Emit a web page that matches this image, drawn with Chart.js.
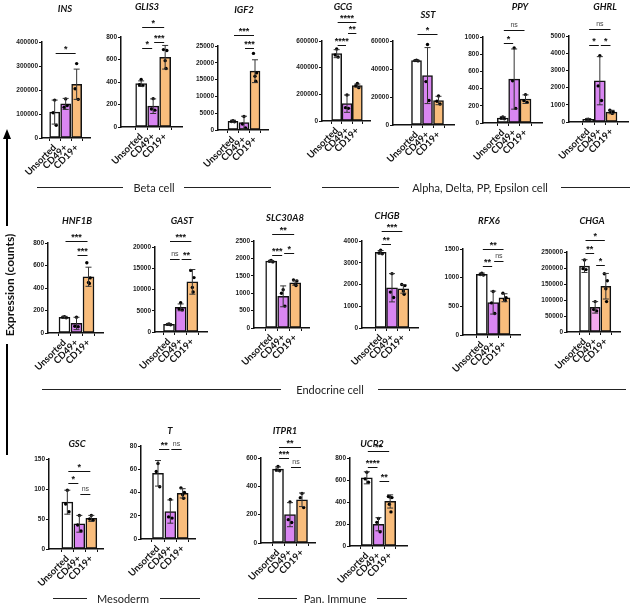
<!DOCTYPE html>
<html><head><meta charset="utf-8">
<script src="https://cdn.jsdelivr.net/npm/chart.js@4.4.1/dist/chart.umd.min.js"></script>
<style>
body{margin:0;background:#fff;width:632px;height:605px;position:relative;overflow:hidden;font-family:Lato,'Liberation Sans',sans-serif;}
canvas{position:absolute;}
.t{position:absolute;font-style:italic;font-weight:700;font-size:9.5px;transform:translate(-50%,-50%);white-space:nowrap;color:#111}
.sec{position:absolute;font-size:11px;transform:translate(-50%,-50%);white-space:nowrap;color:#222}
.ln{position:absolute;height:1.2px;background:#222}
.vl{position:absolute;width:2px;background:#000}
</style></head><body>
<script>
// ---------- DATA ----------
const categories = ['Unsorted', 'CD49+', 'CD19+'];

const INS_mean = [108000, 142000, 224000];
const INS_sd = [50000, 23000, 63000];
const INS_pts = [[158000, 105000, 53000], [163000, 128000, 135000], [310000, 205000, 161000]];
const INS_sig = [[0, 2, '*', 354000]];

const GLIS3_mean = [385, 185, 620];
const GLIS3_sd = [25, 65, 105];
const GLIS3_pts = [[422, 375, 368], [252, 160, 150], [688, 680, 590, 520]];
const GLIS3_sig = [[0, 1, '*', 700], [1, 2, '***', 760], [0, 2, '*', 890]];

const IGF2_mean = [2600, 2200, 17500];
const IGF2_sd = [300, 1900, 3400];
const IGF2_pts = [[2800, 2550, 2450], [4000, 1800, 600], [22800, 17000, 16000, 14500]];
const IGF2_sig = [[1, 2, '***', 24400], [0, 2, '***', 28200]];

const GCG_mean = [505000, 130000, 265000];
const GCG_sd = [30000, 65000, 12000];
const GCG_pts = [[540000, 495000, 480000], [195000, 100000, 95000], [282000, 265000, 250000]];
const GCG_sig = [[0, 1, '****', 568000], [1, 2, '**', 663000], [0, 2, '****', 743000]];

const SST_mean = [46000, 35300, 17500];
const SST_sd = [300, 20000, 3000];
const SST_pts = [[46300, 46000, 45800], [57500, 31000, 17500], [20700, 17000, 15000]];
const SST_sig = [[0, 2, '*', 65000]];

const PPY_mean = [58, 511, 277];
const PPY_sd = [15, 350, 50];
const PPY_pts = [[70, 55, 50], [873, 490, 170], [330, 260, 240]];
const PPY_sig = [[0, 1, '*', 935], [0, 2, 'ns', 1084]];

const GHRL_mean = [150, 2400, 580];
const GHRL_sd = [50, 1400, 100];
const GHRL_pts = [[170, 150, 130], [3850, 2100, 1250], [680, 600, 550, 500]];
const GHRL_sig = [[0, 1, '*', 4460], [1, 2, '*', 4460], [0, 2, 'ns', 5420]];

const HNF1B_mean = [140, 85, 500];
const HNF1B_sd = [8, 55, 85];
const HNF1B_pts = [[145, 140, 135], [140, 60, 55], [625, 490, 450, 440]];
const HNF1B_sig = [[1, 2, '***', 690], [0, 2, '***', 820]];

const GAST_mean = [1800, 5800, 11800];
const GAST_sd = [150, 800, 2900];
const GAST_pts = [[1900, 1800, 1700], [6900, 5400, 5200], [14500, 12800, 10500, 9400]];
const GAST_sig = [[0, 1, 'ns', 17170], [1, 2, '**', 17170], [0, 2, '***', 21500]];

const SLC30A8_mean = [1920, 910, 1300];
const SLC30A8_sd = [20, 300, 70];
const SLC30A8_pts = [[1940, 1920, 1900], [1100, 1000, 630], [1380, 1350, 1250, 1220]];
const SLC30A8_sig = [[0, 1, '***', 2097], [1, 2, '*', 2163], [0, 2, '**', 2700]];

const CHGB_mean = [3480, 1850, 1800];
const CHGB_sd = [80, 650, 200];
const CHGB_pts = [[3580, 3450, 3410], [2500, 1650, 1400], [2000, 1950, 1700, 1550]];
const CHGB_sig = [[0, 1, '**', 3880], [0, 2, '***', 4460]];

const RFX6_mean = [1060, 565, 650];
const RFX6_sd = [20, 200, 70];
const RFX6_pts = [[1080, 1055, 1045], [760, 560, 375], [730, 650, 620, 600]];
const RFX6_sig = [[0, 1, '**', 1195], [1, 2, 'ns', 1283], [0, 2, '**', 1500]];

const CHGA_mean = [206000, 77000, 143000];
const CHGA_sd = [20000, 18000, 40000];
const CHGA_pts = [[225000, 198000, 195000], [95000, 70000, 66000], [182000, 160000, 135000, 95000]];
const CHGA_sig = [[0, 1, '**', 248000], [1, 2, '*', 208000], [0, 2, '*', 286000]];

const GSC_mean = [78, 42, 51];
const GSC_sd = [20, 14, 5];
const GSC_pts = [[98, 75, 62], [56, 40, 30], [56, 50, 48]];
const GSC_sig = [[0, 1, '*', 110], [1, 2, 'ns', 92], [0, 2, '*', 130.5]];

const T_mean = [56.5, 23.6, 39.3];
const T_sd = [11, 10, 4];
const T_pts = [[65, 58, 45], [34, 19, 18], [44, 40, 38, 35]];
const T_sig = [[0, 1, '**', 77.2], [1, 2, 'ns', 77.2]];

const ITPR1_mean = [522, 200, 305];
const ITPR1_sd = [15, 85, 48];
const ITPR1_pts = [[540, 515, 510], [290, 165, 145], [350, 320, 250]];
const ITPR1_sig = [[0, 1, '***', 600], [1, 2, 'ns', 540], [0, 2, '**', 680]];

const UCP2_mean = [620, 198, 405];
const UCP2_sd = [55, 60, 60];
const UCP2_pts = [[670, 610, 580], [250, 215, 130], [450, 445, 440, 380, 310]];
const UCP2_sig = [[0, 1, '****', 714], [1, 2, '**', 593], [0, 2, '**', 860]];

// ---------- LAYOUT ----------
const COLORS = ['#ffffff', '#D986F2', '#F9BD7C'];
const COLORS_CHGA = ['#ffffff', '#F2A8EE', '#F9BD7C'];

const panels = [
  {g:'INS', mean:INS_mean, sd:INS_sd, pts:INS_pts, sig:INS_sig, max:400000, step:100000, L:42, R:90, Y0:138, YT:42, c0:49, c2:82, tx:65, ty:8},
  {g:'GLIS3', mean:GLIS3_mean, sd:GLIS3_sd, pts:GLIS3_pts, sig:GLIS3_sig, max:800, step:200, L:121, R:182, Y0:127, YT:37, c0:136, c2:172, tx:147, ty:6},
  {g:'IGF2', mean:IGF2_mean, sd:IGF2_sd, pts:IGF2_pts, sig:IGF2_sig, max:25000, step:5000, L:218, R:268, Y0:130, YT:46, c0:228, c2:261, tx:244, ty:9},
  {g:'GCG', mean:GCG_mean, sd:GCG_sd, pts:GCG_pts, sig:GCG_sig, max:600000, step:200000, L:322, R:370, Y0:121, YT:41, c0:332, c2:363, tx:343, ty:6},
  {g:'SST', mean:SST_mean, sd:SST_sd, pts:SST_pts, sig:SST_sig, max:60000, step:20000, L:393, R:454, Y0:125, YT:41, c0:413, c2:446, tx:428, ty:14},
  {g:'PPY', mean:PPY_mean, sd:PPY_sd, pts:PPY_pts, sig:PPY_sig, max:1000, step:200, L:483, R:542, Y0:123, YT:37, c0:498, c2:532, tx:520, ty:6},
  {g:'GHRL', mean:GHRL_mean, sd:GHRL_sd, pts:GHRL_pts, sig:GHRL_sig, max:5000, step:1000, L:569, R:628, Y0:122, YT:36, c0:583, c2:618, tx:605, ty:6},
  {g:'HNF1B', mean:HNF1B_mean, sd:HNF1B_sd, pts:HNF1B_pts, sig:HNF1B_sig, max:800, step:200, L:48, R:103, Y0:333, YT:243, c0:59, c2:95, tx:77, ty:220},
  {g:'GAST', mean:GAST_mean, sd:GAST_sd, pts:GAST_pts, sig:GAST_sig, max:20000, step:5000, L:155, R:207, Y0:332, YT:247, c0:163, c2:198, tx:182, ty:220},
  {g:'SLC30A8', mean:SLC30A8_mean, sd:SLC30A8_sd, pts:SLC30A8_pts, sig:SLC30A8_sig, max:2500, step:500, L:254, R:309, Y0:328, YT:241, c0:266, c2:302, tx:285, ty:217},
  {g:'CHGB', mean:CHGB_mean, sd:CHGB_sd, pts:CHGB_pts, sig:CHGB_sig, max:4000, step:1000, L:362, R:418, Y0:328, YT:241, c0:376, c2:410, tx:387, ty:215},
  {g:'RFX6', mean:RFX6_mean, sd:RFX6_sd, pts:RFX6_pts, sig:RFX6_sig, max:1500, step:500, L:463, R:520, Y0:335, YT:249, c0:477, c2:511, tx:489, ty:220},
  {g:'CHGA', mean:CHGA_mean, sd:CHGA_sd, pts:CHGA_pts, sig:CHGA_sig, max:250000, step:50000, L:567, R:620, Y0:332, YT:252, c0:580, c2:612, tx:592, ty:220, colors:COLORS_CHGA},
  {g:'GSC', mean:GSC_mean, sd:GSC_sd, pts:GSC_pts, sig:GSC_sig, max:150, step:50, L:49, R:103, Y0:549, YT:459, c0:63, c2:99, tx:77, ty:443},
  {g:'T', mean:T_mean, sd:T_sd, pts:T_pts, sig:T_sig, max:80, step:20, L:141, R:195, Y0:539, YT:446, c0:153, c2:190, tx:170, ty:430},
  {g:'ITPR1', mean:ITPR1_mean, sd:ITPR1_sd, pts:ITPR1_pts, sig:ITPR1_sig, max:600, step:200, L:261, R:315, Y0:543, YT:458, c0:273, c2:309, tx:285, ty:430},
  {g:'UCP2', mean:UCP2_mean, sd:UCP2_sd, pts:UCP2_pts, sig:UCP2_sig, max:800, step:200, L:350, R:407, Y0:546, YT:458, c0:361, c2:396, tx:372, ty:443}
];

const sections = [
  {text:'Beta cell', x:154, y:187, lines:[[37,123],[184,271]]},
  {text:'Alpha, Delta, PP, Epsilon cell', x:480, y:187, lines:[[322,399],[561,630]]},
  {text:'Endocrine cell', x:330, y:389, lines:[[42,281],[378,626]]},
  {text:'Mesoderm', x:123, y:598, lines:[[53,87],[160,200]]},
  {text:'Pan. Immune', x:335, y:598, lines:[[258,297],[377,407]]}
];

Chart.defaults.font.family = "'Liberation Sans', Arial, sans-serif";
Chart.defaults.color = '#111';

const JIT = {3:[0,-0.14,0.14], 4:[-0.14,0.14,0,0.07], 5:[-0.15,0,0.15,-0.07,0.07]};

function annotPlugin(p){
  return {
    id:'annot'+p.g,
    afterDatasetsDraw(chart){
      const x = chart.scales.x, y = chart.scales.y, ctx = chart.ctx;
      ctx.save();
      ctx.strokeStyle = '#333'; ctx.lineWidth = 1;
      p.mean.forEach((m,i)=>{
        const cx = x.getPixelForValue(i);
        const top = y.getPixelForValue(m + p.sd[i]);
        const lo = Math.max(0, m - p.sd[i]);
        const bot = y.getPixelForValue(lo);
        ctx.beginPath();
        ctx.moveTo(cx, top); ctx.lineTo(cx, bot);
        ctx.moveTo(cx-3, top); ctx.lineTo(cx+3, top);
        if (lo > 0) { ctx.moveTo(cx-3, bot); ctx.lineTo(cx+3, bot); }
        ctx.stroke();
      });
      ctx.strokeStyle = '#111'; ctx.fillStyle = '#111';
      ctx.textAlign = 'center'; ctx.textBaseline = 'alphabetic';
      p.sig.forEach(([i,j,lab,v])=>{
        const yy = Math.round(y.getPixelForValue(v)) + 0.5;
        const x1 = x.getPixelForValue(i) + 1, x2 = x.getPixelForValue(j) - 1;
        ctx.beginPath(); ctx.moveTo(x1, yy); ctx.lineTo(x2, yy); ctx.stroke();
        if (lab === 'ns') {
          ctx.font = "7px 'Liberation Sans', Arial"; ctx.fillStyle = '#444';
          ctx.fillText(lab, (x1+x2)/2, yy - 3.5);
        } else {
          ctx.font = "bold 9px 'Liberation Sans', Arial"; ctx.fillStyle = '#111';
          ctx.fillText(lab, (x1+x2)/2, yy - 1.5);
        }
      });
      ctx.restore();
    }
  };
}

const YW = 44, PT = 40, PR = 10, XH = 48;

panels.forEach(p=>{
  const W = YW + (p.R - p.L) + PR;
  const H = PT + (p.Y0 - p.YT) + XH;
  const cv = document.createElement('canvas');
  cv.width = W; cv.height = H;
  cv.style.left = (p.L - YW) + 'px'; cv.style.top = (p.YT - PT) + 'px';
  cv.style.width = W + 'px'; cv.style.height = H + 'px';
  document.body.appendChild(cv);

  const s = (p.c2 - p.c0) / 2;
  const xmin = -(p.c0 - p.L) / s;
  const xmax = 2 + (p.R - p.c2) / s;
  const cols = p.colors || COLORS;
  const scatter = [];
  p.pts.forEach((arr,i)=>{
    const j = JIT[arr.length] || JIT[3];
    arr.forEach((v,k)=>scatter.push({x: i + j[k % j.length], y: v}));
  });

  new Chart(cv, {
    type: 'bar',
    data: {
      datasets: [
        {type:'scatter', data: scatter, pointRadius: 1.7, pointBackgroundColor:'#000', pointBorderWidth:0, order:0},
        {type:'bar', data: categories.map((c,i)=>({x:i, y:p.mean[i]})), backgroundColor: cols,
         borderColor:'#111', borderWidth:1.5, borderSkipped:false, barThickness: Math.round(s * 0.62), order:1}
      ]
    },
    options: {
      responsive:false, animation:false, devicePixelRatio:1,
      layout:{padding:{top:PT, right:PR, left:0, bottom:0}},
      plugins:{legend:{display:false}, tooltip:{enabled:false}, title:{display:false}},
      scales:{
        x:{type:'linear', min:xmin, max:xmax,
           afterBuildTicks:(sc)=>{ sc.ticks = categories.map((c,i)=>({value:i})); },
           afterFit:(sc)=>{ sc.height = XH; },
           grid:{drawOnChartArea:false, drawTicks:true, tickLength:3, color:'#111', lineWidth:1},
           border:{display:true, color:'#111', width:1.5},
           ticks:{callback:(v)=>categories[v], minRotation:45, maxRotation:45, padding:1, autoSkip:false,
                  font:{family:"Lato, 'Liberation Sans', sans-serif", size:9.5, weight:'bold'}, color:'#111'}},
        y:{min:0, max:p.max,
           afterFit:(sc)=>{ sc.width = YW; },
           grid:{drawOnChartArea:false, drawTicks:true, tickLength:3, color:'#111', lineWidth:1},
           border:{display:true, color:'#111', width:1.5},
           ticks:{stepSize:p.step, padding:1, callback:(v)=>String(v), font:{size:6.5, weight:'bold'}, color:'#222'}}
      }
    },
    plugins:[annotPlugin(p)]
  });

  const t = document.createElement('div');
  t.className = 't'; t.textContent = p.g;
  t.style.left = p.tx + 'px'; t.style.top = p.ty + 'px';
  document.body.appendChild(t);
});

sections.forEach(sct=>{
  const d = document.createElement('div');
  d.className = 'sec'; d.textContent = sct.text;
  d.style.left = sct.x + 'px'; d.style.top = sct.y + 'px';
  document.body.appendChild(d);
  sct.lines.forEach(([a,b])=>{
    const l = document.createElement('div');
    l.className = 'ln';
    l.style.left = a + 'px'; l.style.width = (b - a) + 'px'; l.style.top = sct.y + 'px';
    document.body.appendChild(l);
  });
});
</script>
<div class="vl" style="left:6px;top:137px;height:89px;"></div>
<div style="position:absolute;left:3px;top:129px;width:0;height:0;border-left:4px solid transparent;border-right:4px solid transparent;border-bottom:10px solid #000;"></div>
<div style="position:absolute;left:9px;top:285px;transform:translate(-50%,-50%) rotate(-90deg);font-weight:700;font-size:12px;white-space:nowrap;color:#111;">Expression (counts)</div>
<div class="vl" style="left:6px;top:344px;height:111px;"></div>
</body></html>
